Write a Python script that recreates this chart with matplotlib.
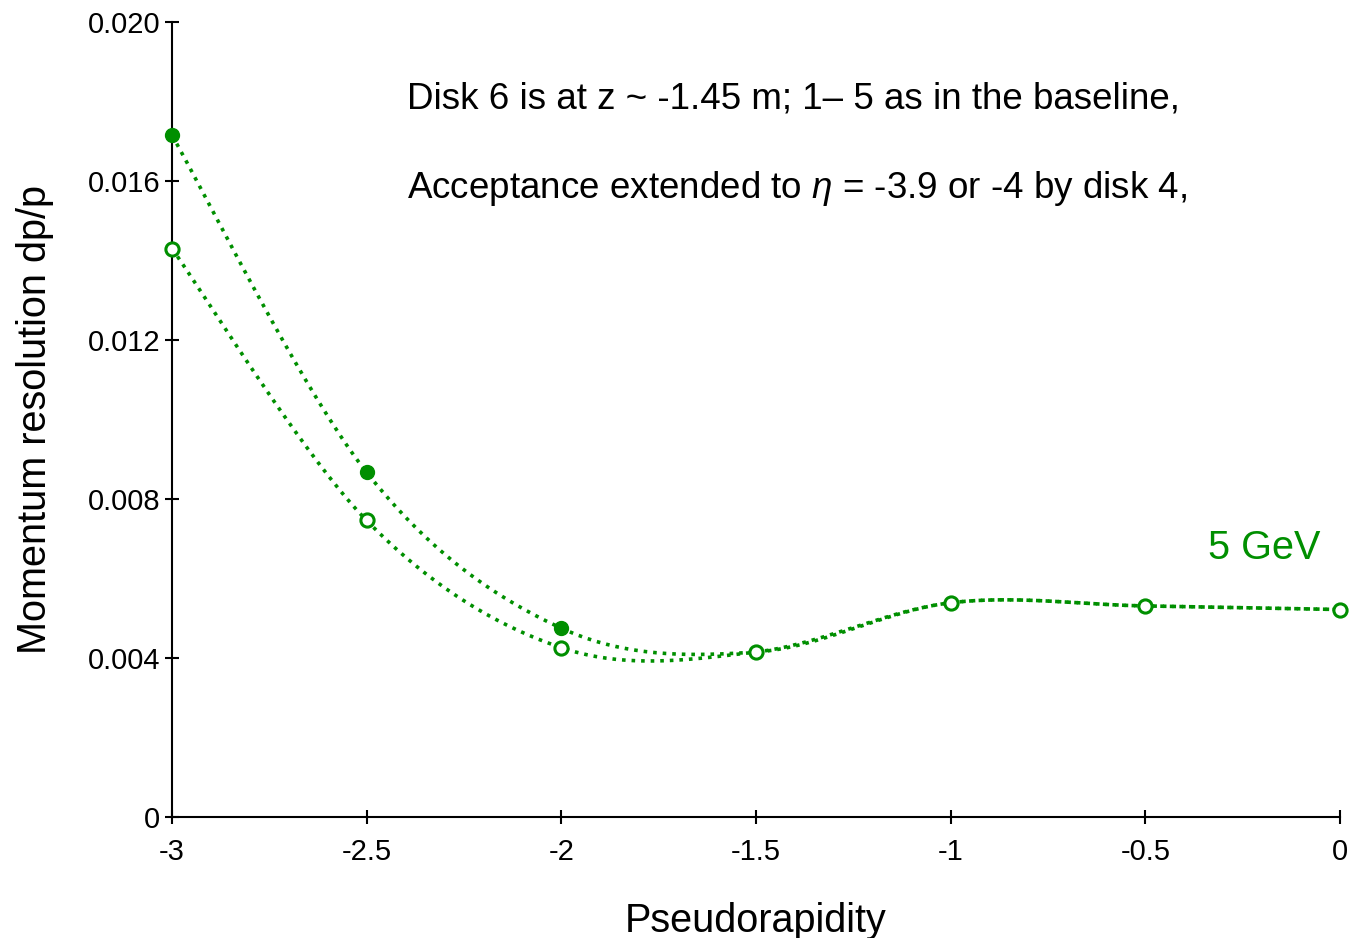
import numpy as np
import matplotlib
matplotlib.use("Agg")
from matplotlib import pyplot as plt

plt.rcParams['font.family'] = ['Liberation Sans', 'DejaVu Sans']
plt.rcParams['mathtext.fontset'] = 'custom'
plt.rcParams['mathtext.it'] = 'Liberation Sans:italic'

# data
eta = [-3.0, -2.5, -2.0, -1.5, -1.0, -0.5, 0.0]
res_disk6 = [0.01715, 0.00867, 0.00475, 0.00415, 0.00539, 0.00531, 0.00522]
res_ext = [0.01430, 0.00746, 0.00426, 0.00415, 0.00539, 0.00531, 0.00522]

green = '#008f00'


def smooth(xs, ys, n=40):
    # excel-style smoothed line (cardinal bezier)
    p = np.column_stack([xs, ys]).astype(float)
    pp = np.vstack([p[0], p, p[-1]])
    out = []
    t = np.linspace(0, 1, n)[:, None]
    for i in range(len(p) - 1):
        p0, p1 = pp[i + 1], pp[i + 2]
        c1 = p0 + (pp[i + 2] - pp[i]) / 6.0
        c2 = p1 - (pp[i + 3] - pp[i + 1]) / 6.0
        seg = (1 - t)**3 * p0 + 3 * (1 - t)**2 * t * c1 + 3 * (1 - t) * t**2 * c2 + t**3 * p1
        out.append(seg if i == 0 else seg[1:])
    out = np.vstack(out)
    return out[:, 0], out[:, 1]


fig = plt.figure(figsize=(13.53, 9.38), dpi=100)
ax = fig.add_axes([0.1271, 0.129, 0.8633, 0.8475])

sx, sy = smooth(eta, res_disk6)
ax.plot(sx, sy, ':', color=green, lw=2.6)
sx, sy = smooth(eta, res_ext)
ax.plot(sx, sy, ':', color=green, lw=2.6)

ax.plot(eta, res_ext, 'o', ls='none', ms=9.5, mfc='white', mec=green, mew=2.2, clip_on=False, zorder=5)
ax.plot(eta[:3], res_disk6[:3], 'o', ls='none', ms=10, color=green, clip_on=False, zorder=6)

ax.set_xlim(-3, 0)
ax.set_ylim(0, 0.020)
ax.set_xticks([-3, -2.5, -2, -1.5, -1, -0.5, 0])
ax.set_xticklabels(['-3', '-2.5', '-2', '-1.5', '-1', '-0.5', '0'])
ax.set_yticks([0, 0.004, 0.008, 0.012, 0.016, 0.020])
ax.set_yticklabels(['0', '0.004', '0.008', '0.012', '0.016', '0.020'])
ax.spines['top'].set_visible(False)
ax.spines['right'].set_visible(False)
ax.spines['left'].set_linewidth(1.5)
ax.spines['bottom'].set_linewidth(1.5)
ax.tick_params(axis='both', direction='inout', length=10, width=1.5, labelsize=21)
ax.tick_params(axis='x', pad=10)

ax.set_xlabel('Pseudorapidity', fontsize=28.5, labelpad=26)
ax.set_ylabel('Momentum resolution dp/p', fontsize=28.5, labelpad=24)

ax.text(0.2013, 0.903, 'Disk 6 is at z ~ -1.45 m; 1\u2013 5 as in the baseline,',
        transform=ax.transAxes, fontsize=26.5, va='center')
ax.text(0.2013, 0.790, 'Acceptance extended to $\\mathit{\\eta}$ = -3.9 or -4 by disk 4,',
        transform=ax.transAxes, fontsize=26.5, va='center')
ax.text(0.887, 0.338, '5 GeV', transform=ax.transAxes, fontsize=28.5, color=green, va='center')

fig.savefig('out.png', dpi=100)
